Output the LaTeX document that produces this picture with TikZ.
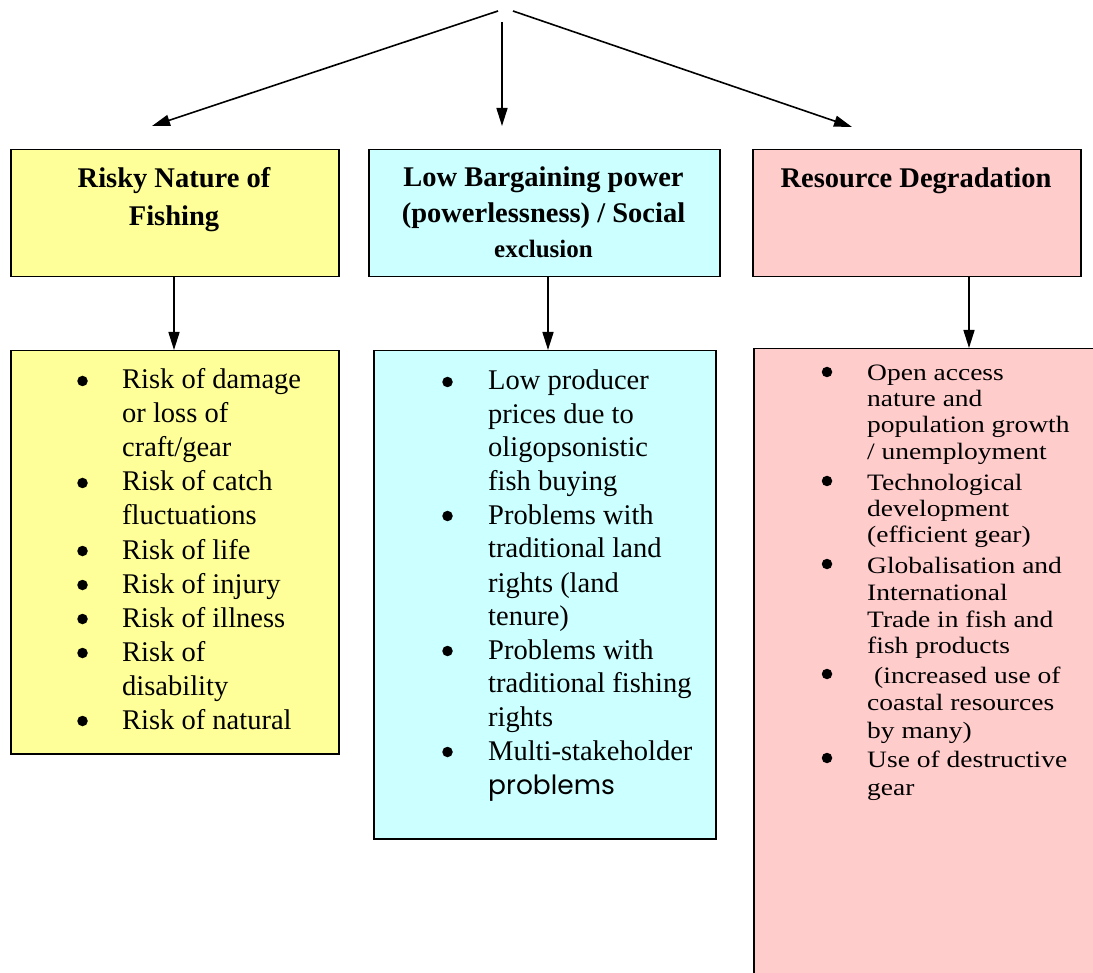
\documentclass[tikz,border=0pt]{standalone}
\usepackage{fontspec}
\setmainfont{Liberation Serif}
\newfontfamily\squishfont[FakeStretch=1.17]{Liberation Serif}
\newfontfamily\geofont{Poppins}
\usetikzlibrary{arrows.meta}
\definecolor{boxyellow}{HTML}{FFFF99}
\definecolor{boxcyan}{HTML}{CCFFFF}
\definecolor{boxpink}{HTML}{FFCCCC}
\tikzset{
  box/.style={draw=black, line width=1.5pt, rectangle, inner sep=0pt, anchor=north west},
  arr/.style={line width=1.6pt, -{Triangle[length=18pt,width=11pt]}},
  headtext/.style={inner sep=0pt, anchor=base, font=\fontsize{28.5}{34}\selectfont\bfseries},
  bodytext/.style={inner sep=0pt, anchor=base west, font=\fontsize{28.5}{34}\selectfont},
  sqtext/.style={inner sep=0pt, anchor=base west, font=\fontsize{23.5}{27}\selectfont\squishfont},
  bul/.style={circle, fill=black, inner sep=0pt, minimum size=10.5pt},
}
\newcommand\bline[4]{\node[bodytext] (#1) at (#2,#3) {#4};}
\newcommand\sline[4]{\node[sqtext] (#1) at (#2,#3) {#4};}
\newcommand\bul[3]{\node[bul] (#1) at (#2,#3-8) {};}
\begin{document}
\begin{tikzpicture}[x=1pt,y=-1pt]
\useasboundingbox (0,0) rectangle (1093,973);
\clip (0,0) rectangle (1093,973);

% header boxes
\node[box, fill=boxyellow, minimum width=328pt, minimum height=127pt] (h1) at (10,149) {};
\node[box, fill=boxcyan, minimum width=351pt, minimum height=127pt] (h2) at (368,149) {};
\node[box, fill=boxpink, minimum width=328pt, minimum height=127pt] (h3) at (752,149) {};

% body boxes
\node[box, fill=boxyellow, minimum width=328pt, minimum height=403pt] (b1) at (10,350) {};
\node[box, fill=boxcyan, minimum width=342pt, minimum height=488pt] (b2) at (373,350) {};
\node[box, fill=boxpink, minimum width=360pt, minimum height=650pt] (b3) at (753,348) {};

% header texts
\node[headtext] (h1a) at (174,188) {Risky Nature of};
\node[headtext] (h1b) at (174,226) {Fishing};
\node[headtext] (h2a) at (543.5,187) {Low Bargaining power};
\node[headtext] (h2b) at (543.5,223) {(powerlessness) / Social};
\node[headtext, font=\fontsize{25}{30}\selectfont\bfseries] (h2c) at (543.5,258) {exclusion};
\node[headtext] (h3a) at (916,188) {Resource Degradation};

% top arrows
\coordinate (sl) at (498,11);
\coordinate (sm) at (502,22);
\coordinate (sr) at (513,11);
\coordinate (el) at (152,126);
\coordinate (em) at (502,126);
\coordinate (er) at (852,127);
\draw[arr] (sl) -- (el);
\draw[arr] (sm) -- (em);
\draw[arr] (sr) -- (er);

% vertical arrows
\coordinate (v1) at (174,0);
\coordinate (v2) at (548,0);
\coordinate (v3) at (969,0);
\draw[arr] (h1.south -| v1) -- (b1.north -| v1);
\draw[arr] (h2.south -| v2) -- (b2.north -| v2);
\draw[arr] (h3.south -| v3) -- (b3.north -| v3);

% box 1 list
\bul{p1b1}{82.5}{389}
\bline{p1l1}{122}{389}{Risk of damage}
\bline{p1l2}{122}{423}{or loss of}
\bline{p1l3}{122}{457}{craft/gear}
\bul{p1b2}{82.5}{491}
\bline{p1l4}{122}{491}{Risk of catch}
\bline{p1l5}{122}{525}{fluctuations}
\bul{p1b3}{82.5}{559}
\bline{p1l6}{122}{559}{Risk of life}
\bul{p1b4}{82.5}{593}
\bline{p1l7}{122}{593}{Risk of injury}
\bul{p1b5}{82.5}{627}
\bline{p1l8}{122}{627}{Risk of illness}
\bul{p1b6}{82.5}{661}
\bline{p1l9}{122}{661}{Risk of}
\bline{p1l10}{122}{695}{disability}
\bul{p1b7}{82.5}{729}
\bline{p1l11}{122}{729}{Risk of natural}

% box 2 list
\bul{p2b1}{447.5}{390}
\bline{p2l1}{488}{390}{Low producer}
\bline{p2l2}{488}{423.6}{prices due to}
\bline{p2l3}{488}{457}{oligopsonistic}
\bline{p2l4}{488}{491}{fish buying}
\bul{p2b2}{447.5}{524}
\bline{p2l5}{488}{524}{Problems with}
\bline{p2l6}{488}{558}{traditional land}
\bline{p2l7}{488}{592}{rights (land}
\bline{p2l8}{488}{625}{tenure)}
\bul{p2b3}{447.5}{659}
\bline{p2l9}{488}{659}{Problems with}
\bline{p2l10}{488}{692}{traditional fishing}
\bline{p2l11}{488}{726}{rights}
\bul{p2b4}{447.5}{760}
\bline{p2l12}{488}{760}{Multi-stakeholder}
\node[bodytext, font=\fontsize{26.5}{30}\selectfont\geofont] (p2l13) at (488,794) {problems};

% box 3 list
\bul{p3b1}{827}{380}
\sline{p3l1}{867}{381}{Open access}
\sline{p3l2}{867}{407}{nature and}
\sline{p3l3}{867}{433}{population growth}
\sline{p3l4}{867}{460}{/ unemployment}
\bul{p3b2}{827}{489}
\sline{p3l5}{867}{490}{Technological}
\sline{p3l6}{867}{517}{development}
\sline{p3l7}{867}{543}{(efficient gear)}
\bul{p3b3}{827}{572}
\sline{p3l8}{867}{573}{Globalisation and}
\sline{p3l9}{867}{600}{International}
\sline{p3l10}{867}{627}{Trade in fish and}
\sline{p3l11}{867}{653}{fish products}
\bul{p3b4}{827}{682}
\sline{p3l12}{874}{683}{(increased use of}
\sline{p3l13}{867}{710}{coastal resources}
\sline{p3l14}{867}{738}{by many)}
\bul{p3b5}{827}{766}
\sline{p3l15}{867}{767}{Use of destructive}
\sline{p3l16}{867}{795}{gear}
\end{tikzpicture}
\end{document}
